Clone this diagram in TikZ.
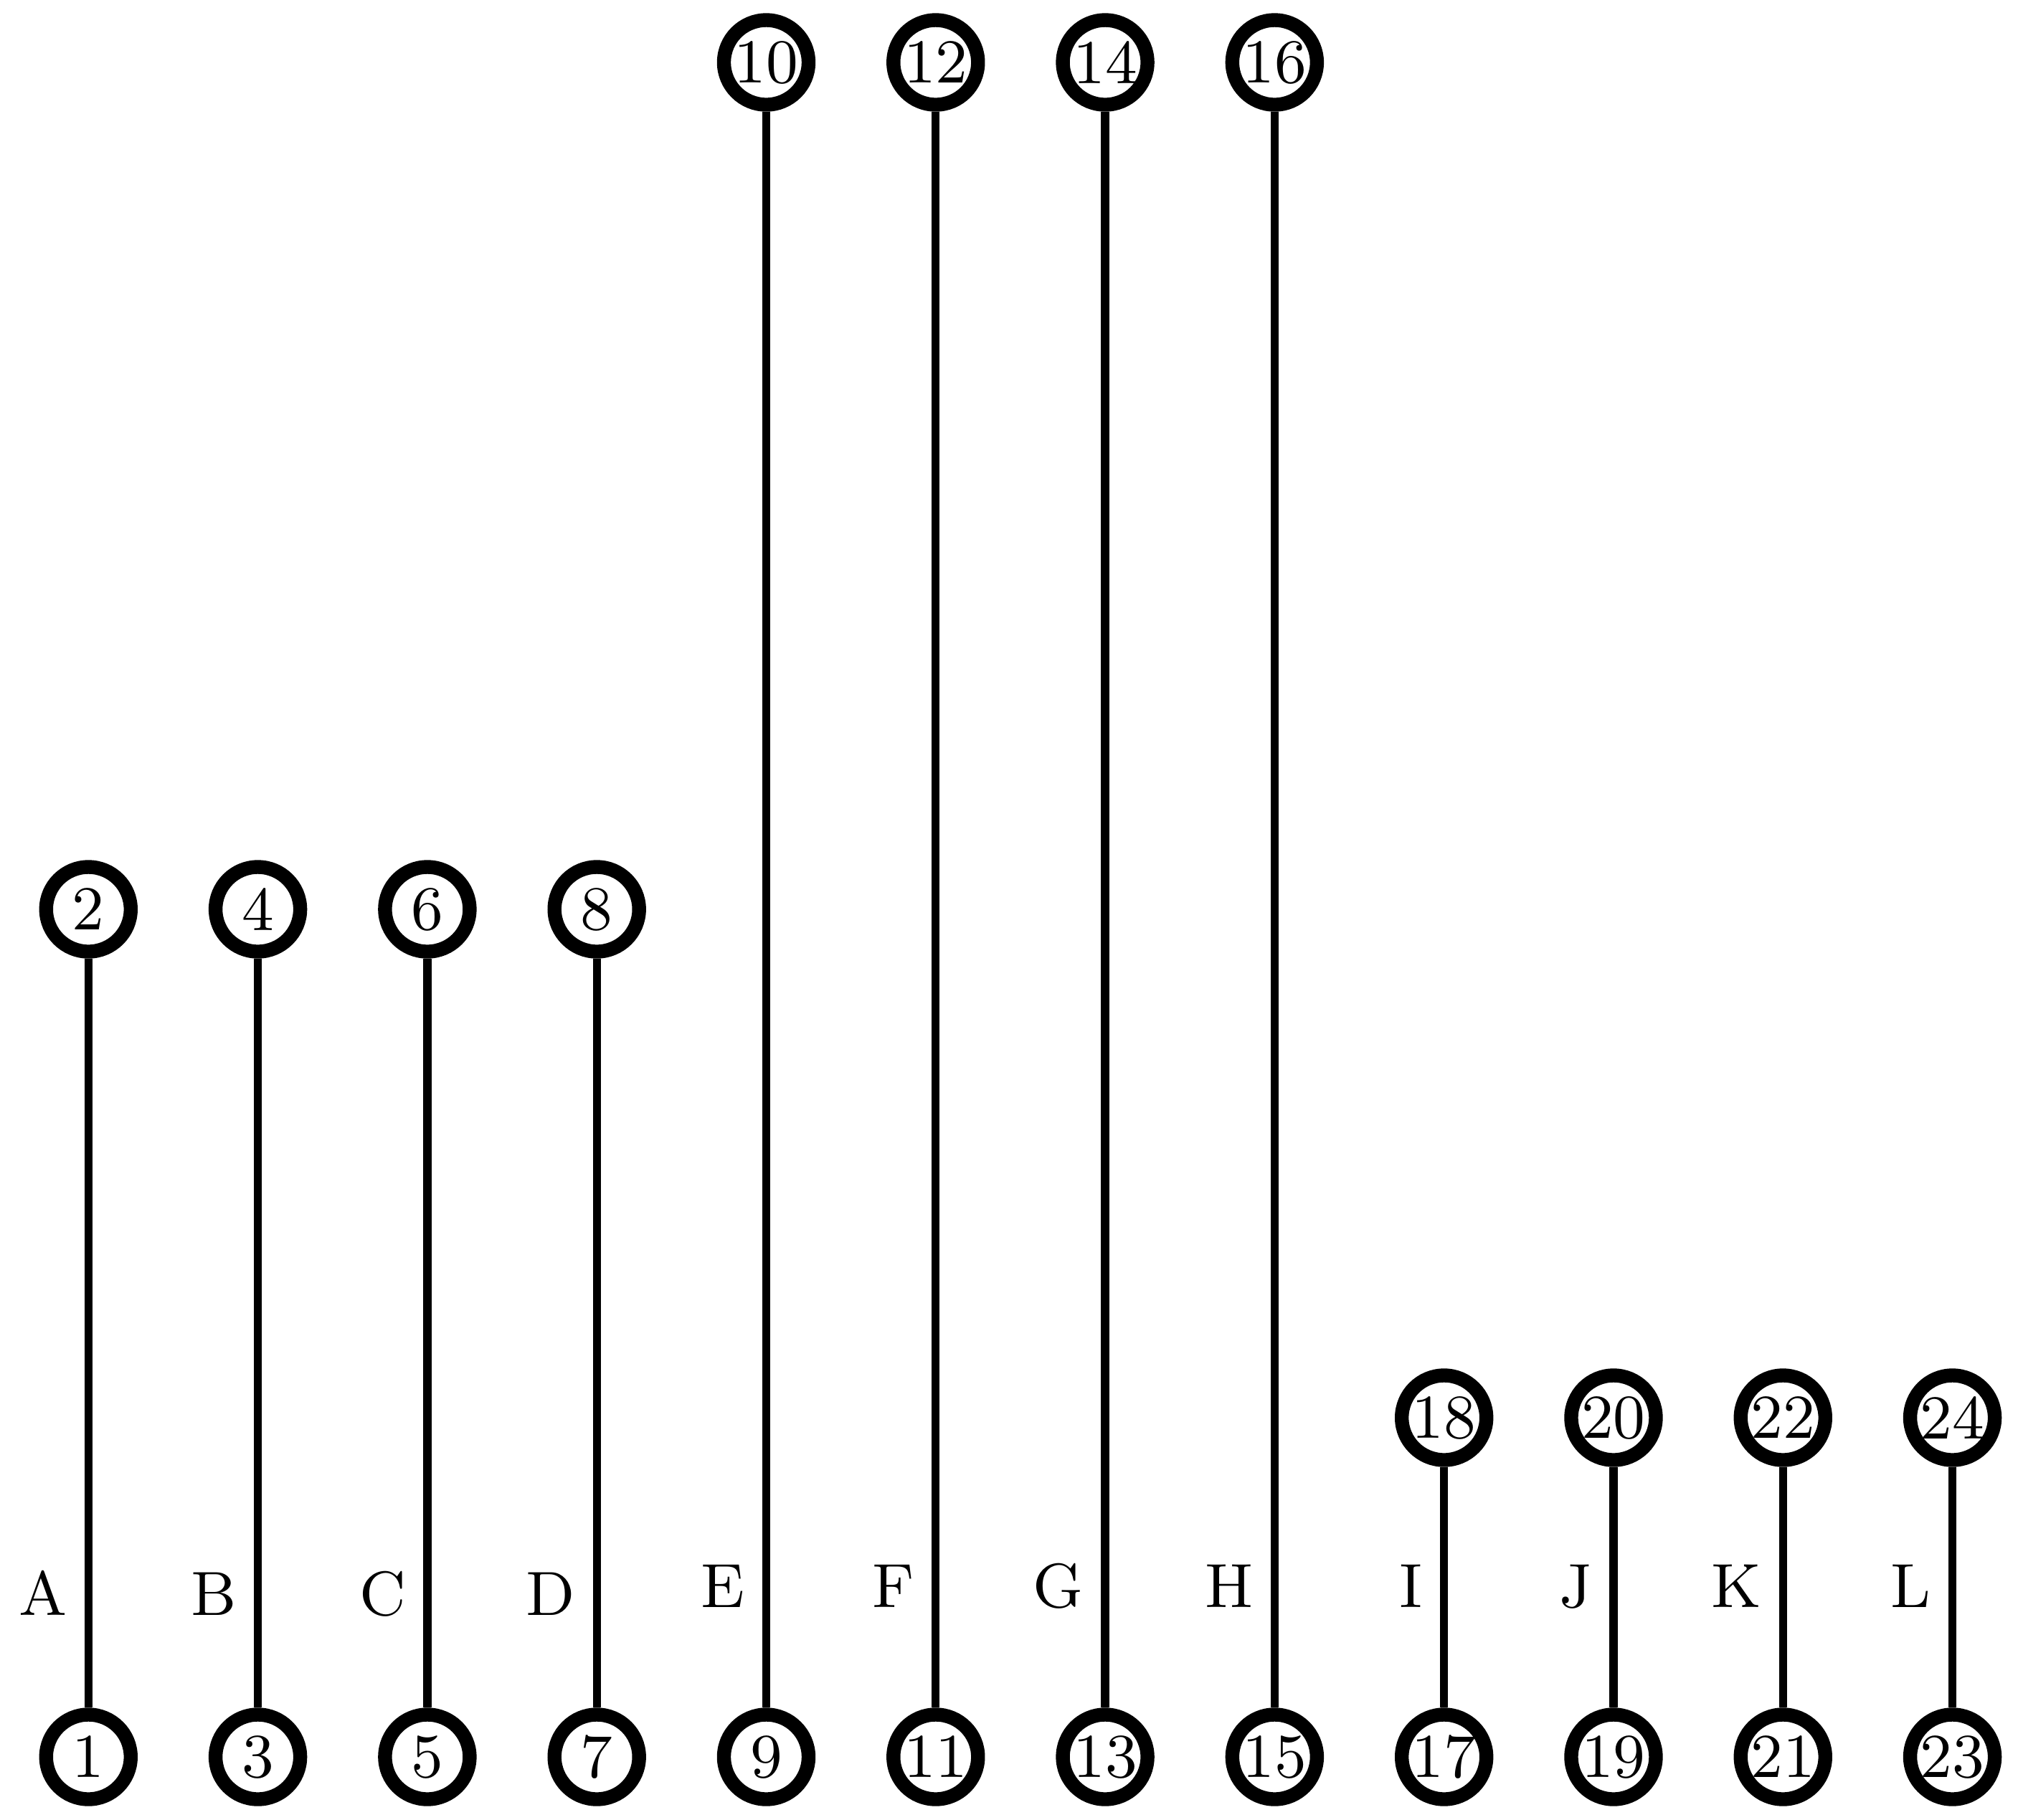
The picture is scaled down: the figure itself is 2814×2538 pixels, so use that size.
\documentclass[tikz,border=0pt]{standalone}
\begin{document}
\begin{tikzpicture}[x=0.1pt,y=-0.1pt,
  vert/.style={circle,draw=black,line width=1.94pt,fill=white,minimum size=11.8pt,inner sep=0pt,font=\fontsize{8.7}{10}\selectfont},
  edgeline/.style={line width=1.13pt,draw=black},
  lab/.style={anchor=base east,inner sep=0pt,font=\fontsize{8.7}{10}\selectfont}]
\useasboundingbox (0,0) rectangle (2814,2538);
\foreach \k/\ty/\lab/\ly in {0/1268/A/2252, 1/1268/B/2252, 2/1268/C/2252, 3/1268/D/2252,
  4/87/E/2241, 5/87/F/2241, 6/87/G/2241, 7/87/H/2241,
  8/1977/I/2241, 9/1977/J/2241, 10/1977/K/2241, 11/1977/L/2241} {
  \pgfmathsetmacro\xx{123.3+236.3*\k}
  \pgfmathtruncatemacro\b{2*\k+1}
  \pgfmathtruncatemacro\t{2*\k+2}
  \node[vert] (n\b) at (\xx,2450) {\b};
  \node[vert] (n\t) at (\xx,\ty) {\t};
  \draw[edgeline] (n\t) -- (n\b);
  \node[lab] (l\lab) at (\xx-28,\ly) {\lab};
}
\end{tikzpicture}
\end{document}
